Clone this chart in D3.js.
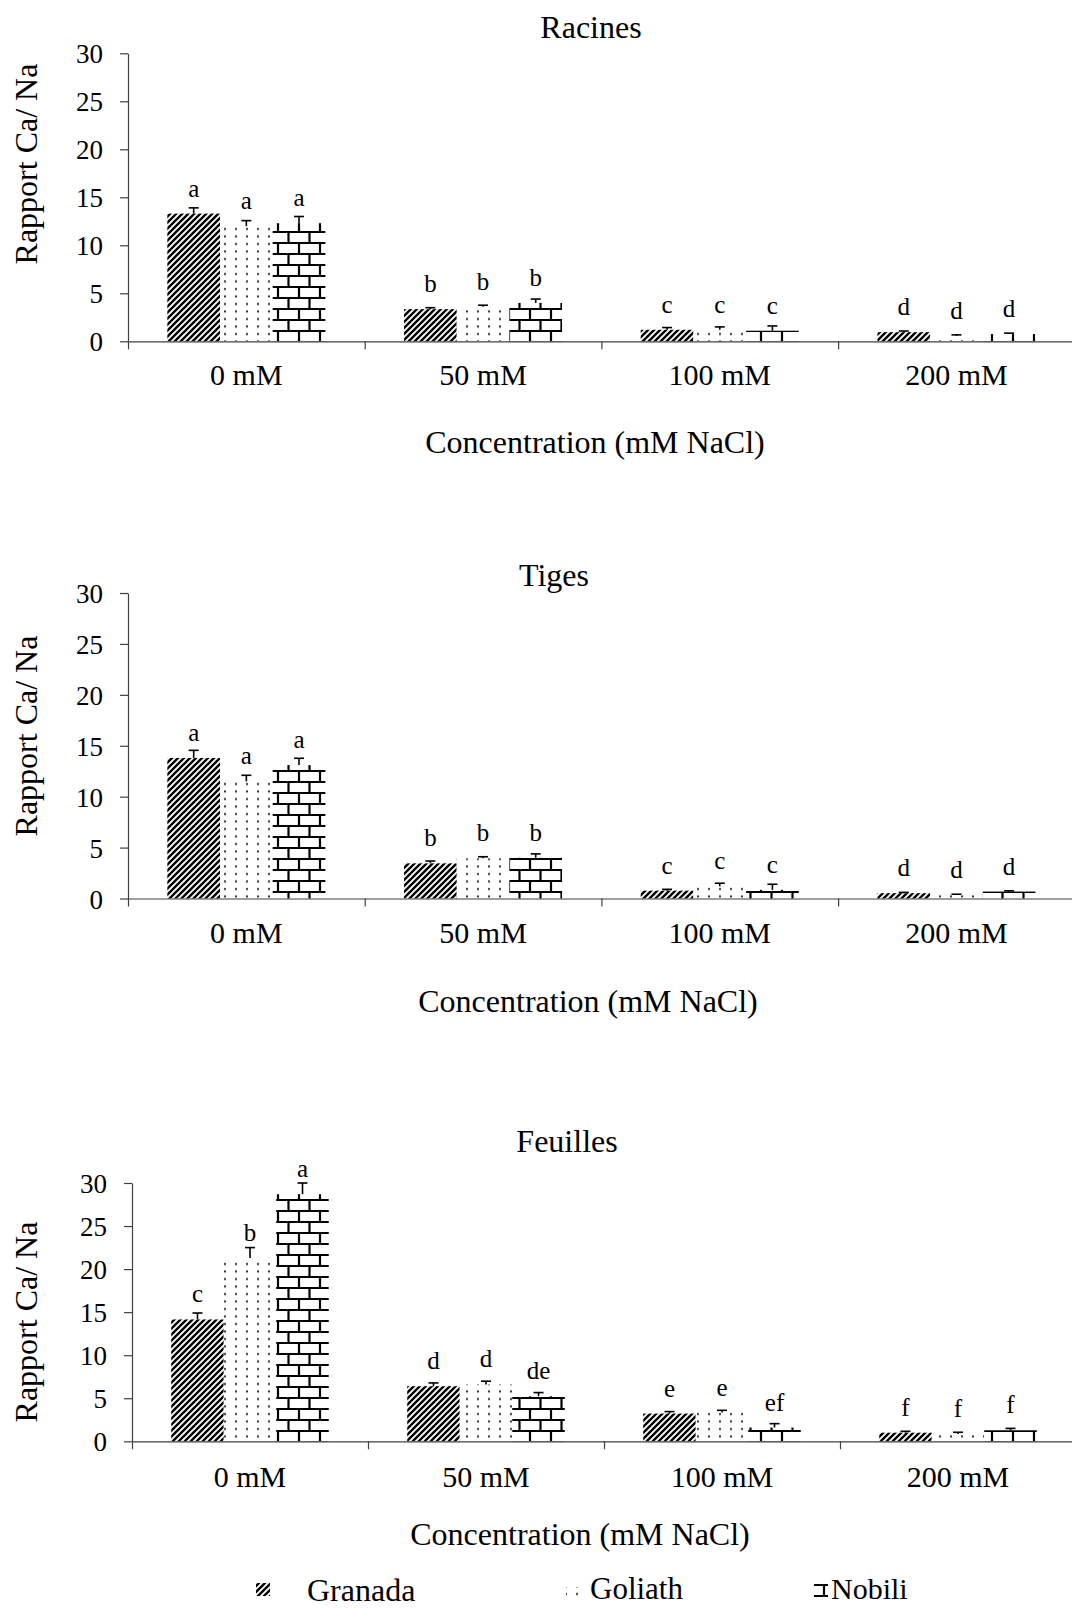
<!DOCTYPE html>
<html>
<head>
<meta charset="utf-8">
<script src="https://cdn.jsdelivr.net/npm/d3@7"></script>
<style>
  body { margin: 0; background: #fff; }
  svg { display: block; font-family: 'Liberation Serif', 'Times New Roman', serif; }
  text { fill: #000; }
</style>
</head>
<body>
<script>
// Categories and series
const categories = ['0 mM', '50 mM', '100 mM', '200 mM'];
const varieties = ['Granada', 'Goliath', 'Nobili'];
const yTicks = [0, 5, 10, 15, 20, 25, 30];

// Racines: means, error (sd), letters
const racinesGranada = [13.3, 3.35, 1.2, 0.95];
const racinesGoliath = [12.0, 3.6, 1.2, 0.55];
const racinesNobili = [12.3, 4.0, 1.1, 0.75];
const racinesGranadaErr = [0.6, 0.15, 0.23, 0.12];
const racinesGoliathErr = [0.57, 0.16, 0.3, 0.12];
const racinesNobiliErr = [0.7, 0.4, 0.5, 0.1];
const racinesGranadaLetters = ['a', 'b', 'c', 'd'];
const racinesGoliathLetters = ['a', 'b', 'c', 'd'];
const racinesNobiliLetters = ['a', 'b', 'c', 'd'];

// Tiges
const tigesGranada = [13.8, 3.45, 0.77, 0.52];
const tigesGoliath = [11.5, 3.95, 1.2, 0.35];
const tigesNobili = [13.1, 4.0, 0.85, 0.68];
const tigesGranadaErr = [0.75, 0.23, 0.13, 0.08];
const tigesGoliathErr = [0.6, 0.15, 0.3, 0.07];
const tigesNobiliErr = [0.67, 0.38, 0.55, 0.07];
const tigesGranadaLetters = ['a', 'b', 'c', 'd'];
const tigesGoliathLetters = ['a', 'b', 'c', 'd'];
const tigesNobiliLetters = ['a', 'b', 'c', 'd'];

// Feuilles
const feuillesGranada = [14.15, 6.4, 3.22, 1.0];
const feuillesGoliath = [21.3, 6.6, 3.34, 0.85];
const feuillesNobili = [28.7, 5.23, 1.6, 1.28];
const feuillesGranadaErr = [0.75, 0.38, 0.23, 0.16];
const feuillesGoliathErr = [1.2, 0.38, 0.26, 0.2];
const feuillesNobiliErr = [1.3, 0.43, 0.45, 0.22];
const feuillesGranadaLetters = ['c', 'd', 'e', 'f'];
const feuillesGoliathLetters = ['b', 'd', 'e', 'f'];
const feuillesNobiliLetters = ['a', 'de', 'ef', 'f'];

const yTitle = 'Rapport Ca/ Na';
const xTitle = 'Concentration (mM NaCl)';

// Panel layout
const panels = [
  {
    title: 'Racines', x0: 128, band: 236.7, yZero: 341.3, yTop: 53.3,
    titleX: 591, titleY: 38, catY: 385, xTitleX: 595, xTitleY: 453, yTitleY: 164,
    means: [racinesGranada, racinesGoliath, racinesNobili],
    errs: [racinesGranadaErr, racinesGoliathErr, racinesNobiliErr],
    letters: [racinesGranadaLetters, racinesGoliathLetters, racinesNobiliLetters],
  },
  {
    title: 'Tiges', x0: 128, band: 236.7, yZero: 898.5, yTop: 593,
    titleX: 554, titleY: 586, catY: 943, xTitleX: 588, xTitleY: 1012, yTitleY: 736,
    means: [tigesGranada, tigesGoliath, tigesNobili],
    errs: [tigesGranadaErr, tigesGoliathErr, tigesNobiliErr],
    letters: [tigesGranadaLetters, tigesGoliathLetters, tigesNobiliLetters],
  },
  {
    title: 'Feuilles', x0: 132, band: 236, yZero: 1441.3, yTop: 1183,
    titleX: 567, titleY: 1152, catY: 1487, xTitleX: 580, xTitleY: 1545, yTitleY: 1322,
    means: [feuillesGranada, feuillesGoliath, feuillesNobili],
    errs: [feuillesGranadaErr, feuillesGoliathErr, feuillesNobiliErr],
    letters: [feuillesGranadaLetters, feuillesGoliathLetters, feuillesNobiliLetters],
  },
];

const axisColor = '#404040';

const svg = d3.select('body')
  .append('svg')
  .attr('width', 1072)
  .attr('height', 1609);

// Fill patterns
const defs = svg.append('defs');

const hatch = defs.append('pattern')
  .attr('id', 'pat-Granada')
  .attr('patternUnits', 'userSpaceOnUse')
  .attr('width', 6)
  .attr('height', 6);
hatch.append('rect').attr('width', 6).attr('height', 6).attr('fill', '#fff');
hatch.append('path')
  .attr('d', 'M0,6 L6,0 M-1,1 L1,-1 M5,7 L7,5')
  .attr('stroke', '#000')
  .attr('stroke-width', 2.4);

const dots = defs.append('pattern')
  .attr('id', 'pat-Goliath')
  .attr('patternUnits', 'userSpaceOnUse')
  .attr('width', 11)
  .attr('height', 7.5);
dots.append('rect').attr('width', 11).attr('height', 7.5).attr('fill', '#fff');
dots.append('rect')
  .attr('x', 4).attr('y', 3)
  .attr('width', 2).attr('height', 2)
  .attr('fill', '#333');

const brick = defs.append('pattern')
  .attr('id', 'pat-Nobili')
  .attr('patternUnits', 'userSpaceOnUse')
  .attr('width', 21)
  .attr('height', 22);
brick.append('rect').attr('width', 21).attr('height', 22).attr('fill', '#fff');
brick.append('path')
  .attr('d', 'M0,1 H21 M0,12 H21 M5,1 V12 M15.5,12 V22')
  .attr('stroke', '#000')
  .attr('stroke-width', 2.2);

function txt(g, x, y, str, size, anchor = 'middle', rot = false) {
  return g.append('text')
    .attr('transform', `translate(${x},${y})${rot ? ' rotate(-90)' : ''}`)
    .attr('text-anchor', anchor)
    .style('font-size', `${size}px`)
    .text(str);
}

panels.forEach((p) => {
  const g = svg.append('g');

  const xRange = [p.x0, p.x0 + p.band * categories.length];
  const x = d3.scaleBand()
    .domain(categories)
    .range(xRange)
    .paddingInner(0.3325)
    .paddingOuter(0.16625);

  const xs = d3.scaleBand()
    .domain(varieties)
    .range([0, x.bandwidth()]);

  const y = d3.scaleLinear()
    .domain([0, 30])
    .range([p.yZero, p.yTop]);

  // Bars
  varieties.forEach((v, vi) => {
    const rows = categories.map((c, ci) => ({
      cat: c,
      value: p.means[vi][ci],
      err: p.errs[vi][ci],
      letter: p.letters[vi][ci],
    }));

    const cx = d => x(d.cat) + xs(v) + xs.bandwidth() / 2;

    g.append('g')
      .selectAll('rect')
      .data(rows)
      .enter()
      .append('rect')
      .attr('x', d => x(d.cat) + xs(v))
      .attr('y', d => y(d.value))
      .attr('width', xs.bandwidth())
      .attr('height', d => y(0) - y(d.value))
      .attr('fill', `url(#pat-${v})`);

    // Error bars (upper only)
    const eb = g.append('g')
      .attr('stroke', '#000')
      .attr('stroke-width', 1.6);
    eb.selectAll('.stem')
      .data(rows)
      .enter()
      .append('line')
      .attr('x1', cx)
      .attr('x2', cx)
      .attr('y1', d => y(d.value))
      .attr('y2', d => y(d.value + d.err));
    eb.selectAll('.cap')
      .data(rows)
      .enter()
      .append('line')
      .attr('x1', d => cx(d) - 5)
      .attr('x2', d => cx(d) + 5)
      .attr('y1', d => y(d.value + d.err))
      .attr('y2', d => y(d.value + d.err));

    // Significance letters
    rows.forEach((d) => {
      txt(g, cx(d), y(d.value) - 17, d.letter, 25);
    });
  });

  // X axis: ticks at category boundaries
  const xEdge = d3.scaleLinear()
    .domain([0, categories.length])
    .range(xRange);

  const xAxis = d3.axisBottom(xEdge)
    .tickValues(d3.range(categories.length + 1))
    .tickFormat('')
    .tickSize(8)
    .tickSizeOuter(0);

  const xg = g.append('g')
    .attr('transform', `translate(0,${y(0)})`)
    .call(xAxis);
  xg.attr('font-family', null).attr('font-size', null);
  xg.selectAll('path, line').attr('stroke', axisColor).attr('stroke-width', 1.2);

  categories.forEach((c) => {
    txt(g, x(c) + x.bandwidth() / 2, p.catY, c, 30);
  });

  // Y axis
  const yAxis = d3.axisLeft(y)
    .tickValues(yTicks)
    .tickSize(8)
    .tickSizeOuter(0);

  const yg = g.append('g')
    .attr('transform', `translate(${p.x0},0)`)
    .call(yAxis);
  yg.attr('font-family', null).attr('font-size', null);
  yg.selectAll('path, line').attr('stroke', axisColor).attr('stroke-width', 1.2);
  yg.selectAll('text')
    .attr('x', -25)
    .attr('dy', 9.5)
    .attr('fill', '#000')
    .style('font-size', '27px');

  // Titles
  txt(g, p.titleX, p.titleY, p.title, 32);
  txt(g, p.xTitleX, p.xTitleY, xTitle, 32);
  txt(g, 37, p.yTitleY, yTitle, 32, 'middle', true);
});

// Legend
const legendItems = [
  { name: varieties[0], sx: 256, sy: 1583, tx: 307, ty: 1601, size: 32 },
  { name: varieties[1], sx: 566, sy: 1587, tx: 590, ty: 1599, size: 31 },
  { name: varieties[2], sx: 814, sy: 1584, tx: 831, ty: 1599, size: 30 },
];

const leg = svg.append('g').attr('id', 'legend');
legendItems.forEach((d) => {
  leg.append('rect')
    .attr('x', d.sx)
    .attr('y', d.sy)
    .attr('width', 14)
    .attr('height', 13)
    .attr('fill', `url(#pat-${d.name})`);
  txt(leg, d.tx, d.ty, d.name, d.size, 'start');
});
</script>
</body>
</html>
